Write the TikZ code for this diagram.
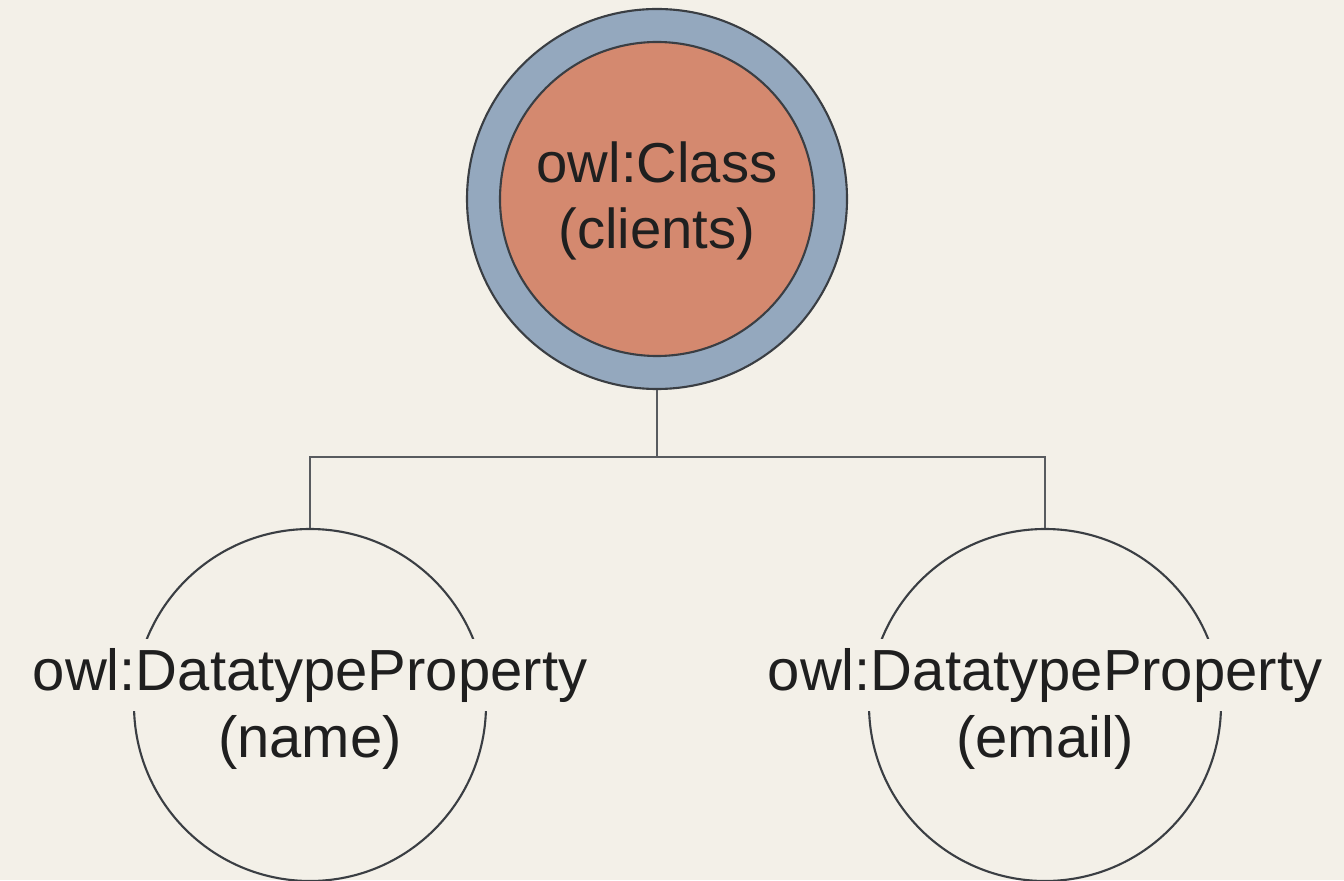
\documentclass[tikz,border=0pt]{standalone}
\usepackage{fontspec}
\setmainfont{Liberation Sans}
\definecolor{paper}{HTML}{F3F0E8}
\definecolor{ring}{HTML}{94A8BE}
\definecolor{salmon}{HTML}{D4896F}
\definecolor{ink}{HTML}{3A3E43}
\tikzset{
  classring/.style={circle,draw=ink,line width=1.2pt,fill=ring,minimum size=7.6cm,inner sep=0pt},
  classcore/.style={circle,draw=ink,line width=1.2pt,fill=salmon,minimum size=6.28cm,inner sep=0pt},
  propcircle/.style={circle,draw=ink,line width=1.2pt,minimum size=7.04cm,inner sep=0pt},
  classtext/.style={anchor=base,font=\fontsize{32}{38}\selectfont,text=black!88,inner sep=0pt},
  proptext/.style={anchor=base,font=\fontsize{33}{40}\selectfont,text=black!88,inner xsep=3pt,inner ysep=5pt},
  link/.style={draw=ink!85,line width=1.5pt}
}
\begin{document}
\begin{tikzpicture}
\fill[paper] (0,0) rectangle (26.88,17.6);
\useasboundingbox (0,0) rectangle (26.88,17.6);
% class node: ring with filled core
\node[classring] (clients) at (13.14,13.62) {};
\node[classcore] (clientscore) at (clients.center) {};
\node[classtext] (clientstop) at (13.14,13.94) {owl:Class};
\node[classtext] (clientsbot) at (13.14,12.62) {(clients)};
% datatype properties
\node[propcircle] (name) at (6.2,3.5) {};
\node[proptext,fill=paper] (nametop) at (6.2,3.8) {owl:DatatypeProperty};
\node[proptext] (namebot) at (6.2,2.46) {(name)};
\node[propcircle] (email) at (20.9,3.5) {};
\node[proptext,fill=paper] (emailtop) at (20.9,3.8) {owl:DatatypeProperty};
\node[proptext] (emailbot) at (20.9,2.46) {(email)};
% tree connectors
\coordinate (fork) at (13.14,8.46);
\draw[link] (clients.south) -- (fork) -| (name.north);
\draw[link] (fork) -| (email.north);
\end{tikzpicture}
\end{document}
